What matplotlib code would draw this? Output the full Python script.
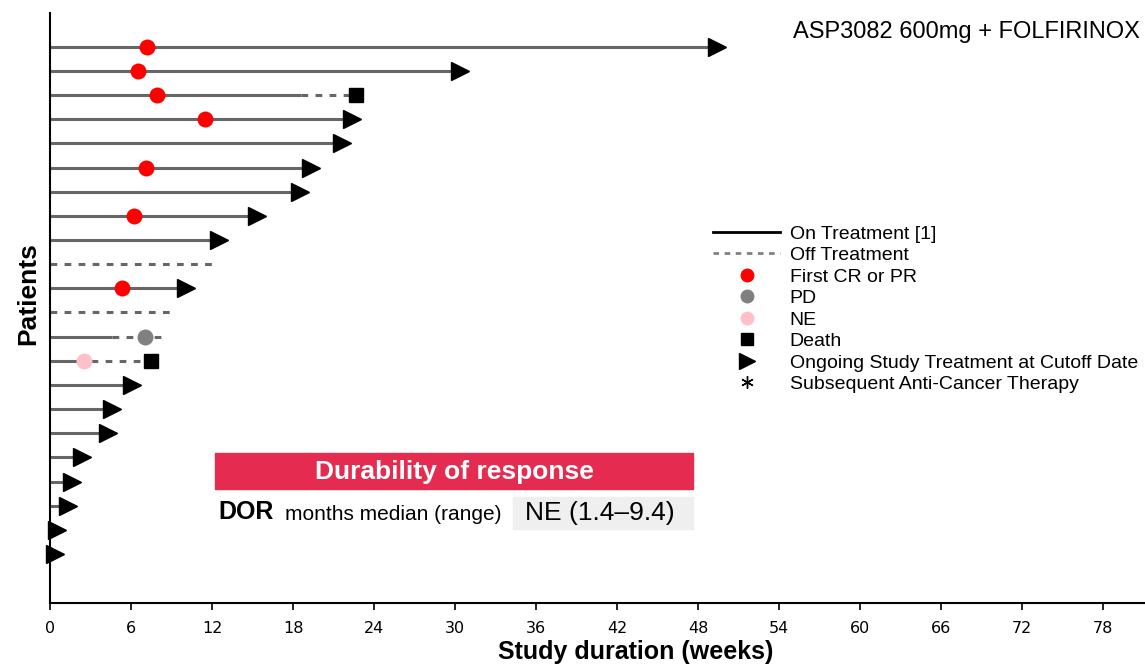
import matplotlib.pyplot as plt
from matplotlib.lines import Line2D
from matplotlib.patches import Rectangle

# swimmer data, patients listed top to bottom (weeks)
on_end = [49.4, 30.4, 18.6, 22.4, 21.6, 19.3, 18.5, 15.3, 12.5, 0.0, 10.1,
          0.0, 4.6, 2.0, 6.1, 4.6, 4.3, 2.4, 1.6, 1.3, 0.5, 0.4]
off_end = [None, None, 22.7, None, None, None, None, None, None, 12.2, None,
           9.3, 8.4, 7.5, None, None, None, None, None, None, None, None]
end_event = ["arrow", "arrow", "death", "arrow", "arrow", "arrow", "arrow", "arrow",
             "arrow", None, "arrow", None, None, "death", "arrow", "arrow",
             "arrow", "arrow", "arrow", "arrow", "arrow", "arrow"]
resp_row = [0, 1, 2, 3, 5, 7, 10, 12, 13]
resp_week = [7.2, 6.5, 7.9, 11.5, 7.1, 6.2, 5.3, 7.0, 2.5]
resp_type = ["CR/PR"] * 7 + ["PD", "NE"]
resp_color = {"CR/PR": "red", "PD": "gray", "NE": "pink"}
xticks = list(range(0, 79, 6))

plt.rcParams['font.family'] = ['Liberation Sans', 'DejaVu Sans']

fig = plt.figure(figsize=(11.45, 6.66), dpi=100)
ax = fig.add_axes([50 / 1145, 63 / 666, 1 - 50 / 1145, 590 / 666])

n = len(on_end)
line_c = "#666666"
for i in range(n):
    y = n - i
    if on_end[i] > 0:
        ax.plot([0, on_end[i]], [y, y], color=line_c, lw=2.2, solid_capstyle="butt", zorder=2)
    if off_end[i] is not None:
        ax.plot([on_end[i], off_end[i]], [y, y], color=line_c, lw=2.2,
                dashes=(2.2, 2.4), zorder=2)
    if end_event[i] == "arrow":
        ax.plot(on_end[i], y, marker=">", ms=12.5, color="black", zorder=4, clip_on=False)
    elif end_event[i] == "death":
        ax.plot(off_end[i], y, marker="s", ms=10, color="black", zorder=4)

for r, w, t in zip(resp_row, resp_week, resp_type):
    ax.plot(w, n - r, marker="o", ms=11.5, color=resp_color[t], mec="none", zorder=5)

ax.set_xlim(0, 81.1)
ax.set_ylim(-1.03, 23.4)
ax.set_xticks(xticks)
ax.set_xticklabels([str(t) for t in xticks], family="DejaVu Sans", fontsize=11.5)
ax.set_yticks([])
ax.tick_params(axis="x", length=5, width=1.2, pad=8)
for s in ["top", "right"]:
    ax.spines[s].set_visible(False)
for s in ["left", "bottom"]:
    ax.spines[s].set_linewidth(1.5)

ax.set_xlabel("Study duration (weeks)", fontsize=18, fontweight="bold",
              family=["Liberation Sans Narrow", "Liberation Sans"])
ax.xaxis.set_label_coords(0.535, -0.062)
ax.set_ylabel("Patients", fontsize=19, fontweight="bold")
ax.yaxis.set_label_coords(-0.009, 0.524)

fig.text(1140 / 1145, 1 - 32 / 666, "ASP3082 600mg + FOLFIRINOX", ha="right", va="center",
         fontsize=17)

handles = [
    Line2D([], [], color="black", lw=2),
    Line2D([], [], color="gray", lw=2, dashes=(2, 2)),
    Line2D([], [], ls="none", marker="o", color="red", ms=9),
    Line2D([], [], ls="none", marker="o", color="gray", ms=9),
    Line2D([], [], ls="none", marker="o", color="pink", ms=9),
    Line2D([], [], ls="none", marker="s", color="black", ms=8),
    Line2D([], [], ls="none", marker=">", color="black", ms=11),
    Line2D([], [], ls="none", marker=(6, 2, 0), color="black", ms=9, mew=1),
]
labels = ["On Treatment [1]", "Off Treatment", "First CR or PR", "PD", "NE", "Death",
          "Ongoing Study Treatment at Cutoff Date", "Subsequent Anti-Cancer Therapy"]
fig.legend(handles, labels, loc="upper left", bbox_to_anchor=(713 / 1145, 1 - 225 / 666),
           frameon=False, fontsize=14, handlelength=3.45, handletextpad=0.5,
           labelspacing=0.2, borderaxespad=0, borderpad=0)

# durability of response box
fig.patches.append(Rectangle((215 / 1145, 1 - 489 / 666), 478 / 1145, 36 / 666,
                             transform=fig.transFigure, color="#e52b50", zorder=0))
fig.text(454 / 1145, 1 - 472 / 666, "Durability of response", ha="center", va="center",
         color="white", fontsize=19, fontweight="bold")
fig.patches.append(Rectangle((513 / 1145, 1 - 529 / 666), 180 / 1145, 32 / 666,
                             transform=fig.transFigure, color="#efefef", zorder=0))
fig.text(218 / 1145, 1 - 512 / 666, "DOR", ha="left", va="center", fontsize=18,
         fontweight="bold")
fig.text(285 / 1145, 1 - 514 / 666, "months median (range)", ha="left", va="center",
         fontsize=15)
fig.text(600 / 1145, 1 - 513 / 666, "NE (1.4\u20139.4)", ha="center", va="center",
         fontsize=19)

fig.savefig("out.png", dpi=100)
